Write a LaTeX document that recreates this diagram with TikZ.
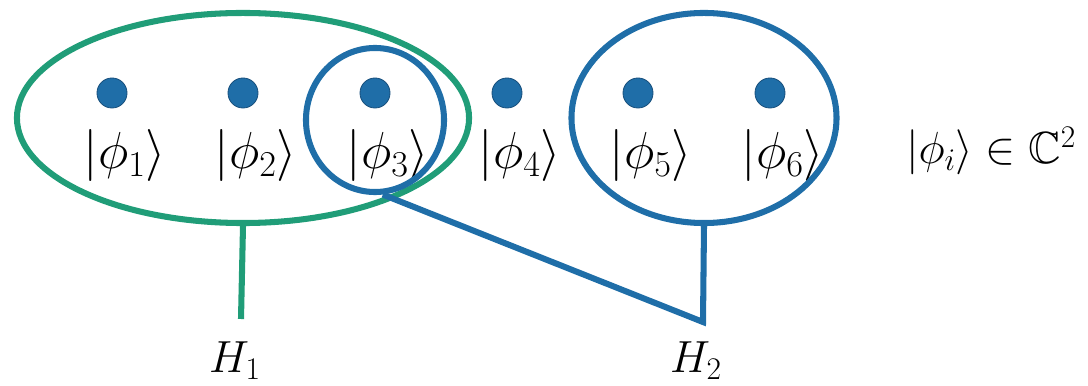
\RequirePackage{fix-cm}
\documentclass[tikz,border=0pt]{standalone}
\usepackage{amssymb}
\usetikzlibrary{shapes.geometric}

\definecolor{grpgreen}{RGB}{32,157,120}
\definecolor{grpblue}{RGB}{31,110,168}
\definecolor{dotedge}{RGB}{24,80,125}

\tikzset{
  qubit/.style={circle, fill=grpblue, draw=dotedge, line width=0.6pt, minimum size=0.75cm, inner sep=0pt},
  ketlabel/.style={anchor=base, inner sep=0pt, font=\fontsize{37}{44}\selectfont},
  group/.style={ellipse, draw, line width=4.3pt, inner sep=0pt},
  ham/.style={anchor=base, inner sep=0pt, font=\fontsize{32}{38}\selectfont},
  link/.style={line width=4.3pt}
}

\begin{document}
\begin{tikzpicture}[x=0.025cm, y=-0.025cm]

    \useasboundingbox (0, 0) rectangle (1088, 386);

    \coordinate (D1) at ( 112,  93);
    \coordinate (D2) at ( 243,  93);
    \coordinate (D3) at ( 375,  93);
    \coordinate (D4) at ( 507,  93);
    \coordinate (D5) at ( 638,  93);
    \coordinate (D6) at ( 770,  93);

    \coordinate (GO) at ( 243, 118);
    \coordinate (SO) at ( 375, 120);
    \coordinate (BO) at ( 704, 118);

    \coordinate (g1end) at ( 241, 319);
    \coordinate (bend) at ( 703, 322);

    \node [qubit] (q1) at (D1) {};
    \node [qubit] (q2) at (D2) {};
    \node [qubit] (q3) at (D3) {};
    \node [qubit] (q4) at (D4) {};
    \node [qubit] (q5) at (D5) {};
    \node [qubit] (q6) at (D6) {};

    \node [ketlabel] (k1) at ( 125, 169) {$|\phi_1\rangle$};
    \node [ketlabel] (k2) at ( 256, 169) {$|\phi_2\rangle$};
    \node [ketlabel] (k3) at ( 388, 169) {$|\phi_3\rangle$};
    \node [ketlabel] (k4) at ( 520, 169) {$|\phi_4\rangle$};
    \node [ketlabel] (k5) at ( 651, 169) {$|\phi_5\rangle$};
    \node [ketlabel] (k6) at ( 783, 169) {$|\phi_6\rangle$};

    \node [anchor=base, inner sep=0pt, font=\fontsize{32}{38}\selectfont] (space) at ( 991, 164) {$|\phi_i\rangle \in \mathbb{C}^2$};

    % two-site groups
    \node [group, draw=grpgreen, minimum width=11.3cm, minimum height=5.25cm] (G12) at (GO) {};
    \node [group, draw=grpblue, minimum width=3.45cm, minimum height=3.6cm] (G3) at (SO) {};
    \node [group, draw=grpblue, minimum width=6.625cm, minimum height=5.25cm] (G56) at (BO) {};

    \draw [link, grpgreen] (G12.south) -- (g1end);
    \draw [link, grpblue, line join=miter] (G3.-84) -- (bend) -- (G56.south);

    \node [ham] (H1) at ( 235, 373) {$H_1$};
    \node [ham] (H2) at ( 696, 373) {$H_2$};

\end{tikzpicture}
\end{document}
